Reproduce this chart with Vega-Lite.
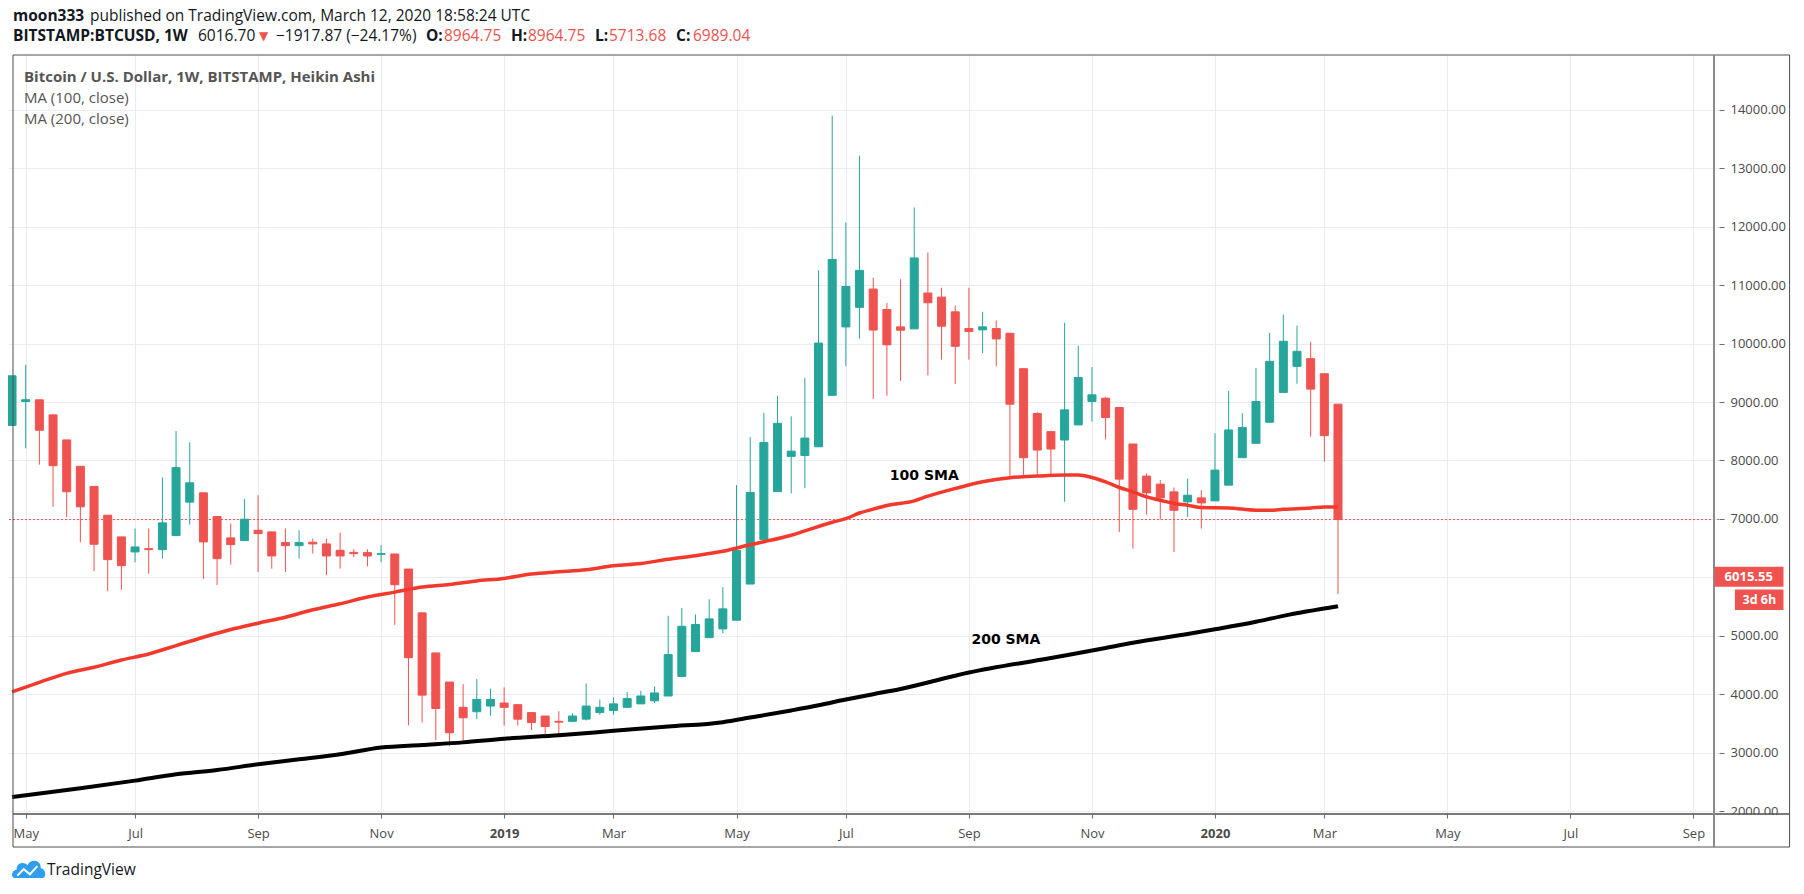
{
  "$schema": "https://vega.github.io/schema/vega-lite/v6.json",
  "width": 1711,
  "height": 759,
  "autosize": {"type": "none"},
  "padding": {"left": 8, "top": 55, "right": 85, "bottom": 80},
  "background": "white",
  "datasets": {
    "candles": [
      {"d": "2018-04-30", "o": 8600, "h": 9450, "l": 8600, "c": 9450},
      {"d": "2018-05-07", "o": 9010, "h": 9640, "l": 8209, "c": 9040},
      {"d": "2018-05-14", "o": 9039, "h": 9039, "l": 7928, "c": 8518},
      {"d": "2018-05-21", "o": 8781, "h": 8781, "l": 7207, "c": 7911},
      {"d": "2018-05-28", "o": 8352, "h": 8352, "l": 7035, "c": 7465},
      {"d": "2018-06-04", "o": 7900, "h": 7900, "l": 6600, "c": 7207},
      {"d": "2018-06-11", "o": 7556, "h": 7556, "l": 6108, "c": 6566},
      {"d": "2018-06-18", "o": 7064, "h": 7064, "l": 5764, "c": 6303},
      {"d": "2018-06-25", "o": 6692, "h": 6692, "l": 5787, "c": 6200},
      {"d": "2018-07-02", "o": 6435, "h": 6835, "l": 6257, "c": 6520},
      {"d": "2018-07-09", "o": 6491, "h": 6835, "l": 6062, "c": 6474},
      {"d": "2018-07-16", "o": 6474, "h": 7711, "l": 6320, "c": 6932},
      {"d": "2018-07-23", "o": 6715, "h": 8506, "l": 6715, "c": 7877},
      {"d": "2018-07-30", "o": 7287, "h": 8312, "l": 6903, "c": 7619},
      {"d": "2018-08-06", "o": 7447, "h": 7447, "l": 5971, "c": 6606},
      {"d": "2018-08-13", "o": 7041, "h": 7041, "l": 5868, "c": 6320},
      {"d": "2018-08-20", "o": 6675, "h": 6921, "l": 6217, "c": 6560},
      {"d": "2018-08-27", "o": 6629, "h": 7344, "l": 6629, "c": 6995},
      {"d": "2018-09-03", "o": 6806, "h": 7407, "l": 6091, "c": 6749},
      {"d": "2018-09-10", "o": 6778, "h": 6778, "l": 6148, "c": 6366},
      {"d": "2018-09-17", "o": 6595, "h": 6835, "l": 6091, "c": 6543},
      {"d": "2018-09-24", "o": 6543, "h": 6806, "l": 6320, "c": 6595},
      {"d": "2018-10-01", "o": 6600, "h": 6663, "l": 6406, "c": 6572},
      {"d": "2018-10-08", "o": 6572, "h": 6663, "l": 6039, "c": 6366},
      {"d": "2018-10-15", "o": 6463, "h": 6766, "l": 6148, "c": 6366},
      {"d": "2018-10-22", "o": 6428, "h": 6480, "l": 6348, "c": 6406},
      {"d": "2018-10-29", "o": 6423, "h": 6480, "l": 6188, "c": 6366},
      {"d": "2018-11-05", "o": 6394, "h": 6549, "l": 6257, "c": 6406},
      {"d": "2018-11-12", "o": 6400, "h": 6400, "l": 5186, "c": 5873},
      {"d": "2018-11-19", "o": 6142, "h": 6142, "l": 3469, "c": 4625},
      {"d": "2018-11-26", "o": 5392, "h": 5392, "l": 3515, "c": 3984},
      {"d": "2018-12-03", "o": 4706, "h": 4706, "l": 3212, "c": 3755},
      {"d": "2018-12-10", "o": 4208, "h": 4208, "l": 3110, "c": 3340},
      {"d": "2018-12-17", "o": 3775, "h": 4170, "l": 3178, "c": 3596},
      {"d": "2018-12-24", "o": 3700, "h": 4260, "l": 3573, "c": 3909},
      {"d": "2018-12-31", "o": 3797, "h": 4095, "l": 3633, "c": 3909},
      {"d": "2019-01-07", "o": 3849, "h": 4118, "l": 3462, "c": 3775},
      {"d": "2019-01-14", "o": 3820, "h": 3820, "l": 3462, "c": 3573},
      {"d": "2019-01-21", "o": 3685, "h": 3685, "l": 3387, "c": 3514},
      {"d": "2019-01-28", "o": 3626, "h": 3626, "l": 3313, "c": 3447},
      {"d": "2019-02-04", "o": 3536, "h": 3708, "l": 3313, "c": 3521},
      {"d": "2019-02-11", "o": 3536, "h": 3670, "l": 3521, "c": 3626},
      {"d": "2019-02-18", "o": 3573, "h": 4185, "l": 3551, "c": 3797},
      {"d": "2019-02-25", "o": 3685, "h": 3909, "l": 3648, "c": 3775},
      {"d": "2019-03-04", "o": 3722, "h": 3946, "l": 3648, "c": 3834},
      {"d": "2019-03-11", "o": 3775, "h": 4036, "l": 3775, "c": 3924},
      {"d": "2019-03-18", "o": 3834, "h": 4058, "l": 3834, "c": 3969},
      {"d": "2019-03-25", "o": 3887, "h": 4133, "l": 3849, "c": 4021},
      {"d": "2019-04-01", "o": 3969, "h": 5341, "l": 3969, "c": 4677},
      {"d": "2019-04-08", "o": 4305, "h": 5475, "l": 4305, "c": 5162},
      {"d": "2019-04-15", "o": 4729, "h": 5364, "l": 4729, "c": 5192},
      {"d": "2019-04-22", "o": 4968, "h": 5625, "l": 4968, "c": 5289},
      {"d": "2019-04-29", "o": 5117, "h": 5833, "l": 5043, "c": 5460},
      {"d": "2019-05-06", "o": 5266, "h": 7579, "l": 5266, "c": 6460},
      {"d": "2019-05-13", "o": 5885, "h": 8399, "l": 5885, "c": 7451},
      {"d": "2019-05-20", "o": 6646, "h": 8816, "l": 6646, "c": 8309},
      {"d": "2019-05-27", "o": 7467, "h": 9107, "l": 7467, "c": 8637},
      {"d": "2019-06-03", "o": 8071, "h": 8757, "l": 7437, "c": 8160},
      {"d": "2019-06-10", "o": 8086, "h": 9413, "l": 7526, "c": 8384},
      {"d": "2019-06-17", "o": 8235, "h": 11255, "l": 8235, "c": 10010},
      {"d": "2019-06-24", "o": 9115, "h": 13903, "l": 9115, "c": 11442},
      {"d": "2019-07-01", "o": 10286, "h": 12076, "l": 9614, "c": 10979},
      {"d": "2019-07-08", "o": 10621, "h": 13217, "l": 10084, "c": 11255},
      {"d": "2019-07-15", "o": 10934, "h": 11129, "l": 9055, "c": 10233},
      {"d": "2019-07-22", "o": 10584, "h": 10696, "l": 9107, "c": 9980},
      {"d": "2019-07-29", "o": 10287, "h": 11101, "l": 9365, "c": 10230},
      {"d": "2019-08-05", "o": 10253, "h": 12332, "l": 10253, "c": 11467},
      {"d": "2019-08-12", "o": 10866, "h": 11559, "l": 9457, "c": 10700},
      {"d": "2019-08-19", "o": 10797, "h": 10957, "l": 9726, "c": 10299},
      {"d": "2019-08-26", "o": 10545, "h": 10654, "l": 9308, "c": 9955},
      {"d": "2019-09-02", "o": 10258, "h": 10957, "l": 9726, "c": 10207},
      {"d": "2019-09-09", "o": 10236, "h": 10545, "l": 9840, "c": 10287},
      {"d": "2019-09-16", "o": 10258, "h": 10396, "l": 9611, "c": 10081},
      {"d": "2019-09-23", "o": 10178, "h": 10178, "l": 7738, "c": 8964},
      {"d": "2019-09-30", "o": 9571, "h": 9571, "l": 7738, "c": 8048},
      {"d": "2019-10-07", "o": 8804, "h": 8827, "l": 7738, "c": 8179},
      {"d": "2019-10-14", "o": 8494, "h": 8494, "l": 7738, "c": 8196},
      {"d": "2019-10-21", "o": 8351, "h": 10356, "l": 7292, "c": 8867},
      {"d": "2019-10-28", "o": 8609, "h": 9966, "l": 8609, "c": 9422},
      {"d": "2019-11-04", "o": 9010, "h": 9600, "l": 8666, "c": 9124},
      {"d": "2019-11-11", "o": 9067, "h": 9084, "l": 8363, "c": 8735},
      {"d": "2019-11-18", "o": 8907, "h": 8907, "l": 6776, "c": 7681},
      {"d": "2019-11-25", "o": 8282, "h": 8282, "l": 6490, "c": 7165},
      {"d": "2019-12-02", "o": 7733, "h": 7778, "l": 7074, "c": 7446},
      {"d": "2019-12-09", "o": 7595, "h": 7664, "l": 6994, "c": 7360},
      {"d": "2019-12-16", "o": 7463, "h": 7538, "l": 6432, "c": 7148},
      {"d": "2019-12-23", "o": 7292, "h": 7692, "l": 7034, "c": 7406},
      {"d": "2019-12-30", "o": 7360, "h": 7492, "l": 6833, "c": 7274},
      {"d": "2020-01-06", "o": 7309, "h": 8466, "l": 7309, "c": 7836},
      {"d": "2020-01-13", "o": 7578, "h": 9193, "l": 7578, "c": 8523},
      {"d": "2020-01-20", "o": 8048, "h": 8809, "l": 8048, "c": 8563},
      {"d": "2020-01-27", "o": 8294, "h": 9583, "l": 8294, "c": 9010},
      {"d": "2020-02-03", "o": 8655, "h": 10184, "l": 8655, "c": 9697},
      {"d": "2020-02-10", "o": 9165, "h": 10499, "l": 9165, "c": 10041},
      {"d": "2020-02-17", "o": 9611, "h": 10310, "l": 9313, "c": 9869},
      {"d": "2020-02-24", "o": 9743, "h": 10029, "l": 8408, "c": 9222},
      {"d": "2020-03-02", "o": 9485, "h": 9485, "l": 7979, "c": 8426},
      {"d": "2020-03-09", "o": 8964.75, "h": 8964.75, "l": 5713.68, "c": 6989.04}
    ],
    "sma100": [
      {"d": "2018-04-30", "v": 4040}, {"d": "2018-05-14", "v": 4202},
      {"d": "2018-05-28", "v": 4357}, {"d": "2018-06-11", "v": 4460},
      {"d": "2018-06-25", "v": 4585}, {"d": "2018-07-09", "v": 4688},
      {"d": "2018-07-23", "v": 4832}, {"d": "2018-08-06", "v": 4975},
      {"d": "2018-08-20", "v": 5106}, {"d": "2018-09-03", "v": 5215},
      {"d": "2018-09-17", "v": 5318}, {"d": "2018-10-01", "v": 5444},
      {"d": "2018-10-15", "v": 5547}, {"d": "2018-10-29", "v": 5662},
      {"d": "2018-11-12", "v": 5747}, {"d": "2018-11-26", "v": 5833},
      {"d": "2018-12-10", "v": 5879}, {"d": "2018-12-24", "v": 5938},
      {"d": "2019-01-07", "v": 5982}, {"d": "2019-01-21", "v": 6057},
      {"d": "2019-02-04", "v": 6094}, {"d": "2019-02-18", "v": 6131},
      {"d": "2019-03-04", "v": 6198}, {"d": "2019-03-18", "v": 6236},
      {"d": "2019-04-01", "v": 6310}, {"d": "2019-04-15", "v": 6370},
      {"d": "2019-04-29", "v": 6445}, {"d": "2019-05-13", "v": 6557},
      {"d": "2019-05-20", "v": 6609}, {"d": "2019-06-03", "v": 6721},
      {"d": "2019-06-10", "v": 6795}, {"d": "2019-06-24", "v": 6944},
      {"d": "2019-07-01", "v": 7004}, {"d": "2019-07-08", "v": 7101},
      {"d": "2019-07-15", "v": 7168}, {"d": "2019-07-22", "v": 7230},
      {"d": "2019-08-05", "v": 7309}, {"d": "2019-08-12", "v": 7389},
      {"d": "2019-08-26", "v": 7521}, {"d": "2019-09-09", "v": 7635},
      {"d": "2019-09-23", "v": 7704}, {"d": "2019-10-07", "v": 7733},
      {"d": "2019-10-21", "v": 7750}, {"d": "2019-10-28", "v": 7750},
      {"d": "2019-11-04", "v": 7710}, {"d": "2019-11-11", "v": 7635},
      {"d": "2019-11-18", "v": 7538}, {"d": "2019-11-25", "v": 7463},
      {"d": "2019-12-02", "v": 7377}, {"d": "2019-12-09", "v": 7320},
      {"d": "2019-12-16", "v": 7263}, {"d": "2019-12-23", "v": 7234},
      {"d": "2019-12-30", "v": 7194}, {"d": "2020-01-13", "v": 7188},
      {"d": "2020-01-27", "v": 7148}, {"d": "2020-02-03", "v": 7148},
      {"d": "2020-02-10", "v": 7165}, {"d": "2020-02-24", "v": 7188},
      {"d": "2020-03-02", "v": 7206}, {"d": "2020-03-09", "v": 7206}
    ],
    "sma200": [
      {"d": "2018-04-30", "v": 2240}, {"d": "2018-06-04", "v": 2390},
      {"d": "2018-07-02", "v": 2520}, {"d": "2018-07-23", "v": 2628},
      {"d": "2018-08-13", "v": 2702}, {"d": "2018-09-03", "v": 2800},
      {"d": "2018-09-24", "v": 2886}, {"d": "2018-10-15", "v": 2972},
      {"d": "2018-11-05", "v": 3086}, {"d": "2018-11-26", "v": 3130},
      {"d": "2018-12-17", "v": 3175}, {"d": "2019-01-07", "v": 3237},
      {"d": "2019-02-04", "v": 3297}, {"d": "2019-03-04", "v": 3372},
      {"d": "2019-04-01", "v": 3446}, {"d": "2019-04-29", "v": 3521},
      {"d": "2019-05-13", "v": 3600}, {"d": "2019-06-03", "v": 3722},
      {"d": "2019-06-17", "v": 3810}, {"d": "2019-07-01", "v": 3909},
      {"d": "2019-07-15", "v": 4000}, {"d": "2019-07-29", "v": 4090},
      {"d": "2019-09-02", "v": 4370}, {"d": "2019-10-14", "v": 4620},
      {"d": "2019-11-11", "v": 4790}, {"d": "2019-11-25", "v": 4880},
      {"d": "2019-12-23", "v": 5029}, {"d": "2020-01-06", "v": 5110},
      {"d": "2020-01-27", "v": 5240}, {"d": "2020-02-10", "v": 5340},
      {"d": "2020-03-09", "v": 5504}
    ]
  },
  "layer": [
    {
      "data": {"values": [{}]},
      "mark": {"type": "rule", "color": "#ef5350", "strokeWidth": 1, "strokeDash": [2, 2]},
      "encoding": {"y": {"datum": 6989.04}}
    },
    {
      "data": {"name": "candles"},
      "mark": {"type": "rule", "strokeWidth": 1, "clip": true},
      "encoding": {
        "x": {
          "field": "d",
          "type": "temporal",
          "title": null,
          "scale": {
            "type": "utc",
            "nice": false,
            "domain": [
              {"year": 2018, "month": 4, "date": 30, "hours": 12, "utc": true},
              {"year": 2020, "month": 9, "date": 17, "hours": 13, "utc": true}
            ]
          },
          "axis": {
            "orient": "bottom",
            "values": [
              {"year": 2018, "month": 5, "date": 7, "utc": true},
              {"year": 2018, "month": 7, "date": 2, "utc": true},
              {"year": 2018, "month": 9, "date": 3, "utc": true},
              {"year": 2018, "month": 11, "date": 5, "utc": true},
              {"year": 2019, "month": 1, "date": 7, "utc": true},
              {"year": 2019, "month": 3, "date": 4, "utc": true},
              {"year": 2019, "month": 5, "date": 6, "utc": true},
              {"year": 2019, "month": 7, "date": 1, "utc": true},
              {"year": 2019, "month": 9, "date": 2, "utc": true},
              {"year": 2019, "month": 11, "date": 4, "utc": true},
              {"year": 2020, "month": 1, "date": 6, "utc": true},
              {"year": 2020, "month": 3, "date": 2, "utc": true},
              {"year": 2020, "month": 5, "date": 4, "utc": true},
              {"year": 2020, "month": 7, "date": 6, "utc": true},
              {"year": 2020, "month": 9, "date": 7, "utc": true}
            ],
            "labelExpr": "utcmonth(datum.value) == 0 ? utcFormat(datum.value, '%Y') : utcFormat(datum.value, '%b')",
            "labelFontWeight": {"condition": {"test": "utcmonth(datum.value) == 0", "value": "bold"}, "value": "normal"},
            "grid": true,
            "domain": false,
            "tickSize": 4,
            "labelPadding": 15,
            "labelBaseline": "middle",
            "labelFlush": false,
            "labelOverlap": false
          }
        },
        "y": {
          "field": "l",
          "type": "quantitative",
          "title": null,
          "scale": {"domain": [1949, 14941], "nice": false, "zero": false},
          "axis": {
            "orient": "right",
            "values": [2000, 3000, 4000, 5000, 6000, 7000, 8000, 9000, 10000, 11000, 12000, 13000, 14000],
            "format": ".2f",
            "grid": true,
            "domain": false,
            "tickSize": 5,
            "labelPadding": 6,
            "labelFlush": false,
            "labelOverlap": false
          }
        },
        "y2": {"field": "h"},
        "color": {"condition": {"test": "datum.c >= datum.o", "value": "#26a69a"}, "value": "#ef5350"}
      }
    },
    {
      "data": {"name": "candles"},
      "mark": {"type": "bar", "width": 8, "strokeWidth": 1, "clip": true},
      "encoding": {
        "x": {"field": "d", "type": "temporal"},
        "y": {"field": "o", "type": "quantitative"},
        "y2": {"field": "c"},
        "fill": {"condition": {"test": "datum.c >= datum.o", "value": "#26a69a"}, "value": "#ef5350"},
        "stroke": {"condition": {"test": "datum.c >= datum.o", "value": "#26a69a"}, "value": "#ef5350"}
      }
    },
    {
      "data": {"name": "sma100"},
      "mark": {"type": "line", "color": "#f2392c", "strokeWidth": 3.5, "interpolate": "monotone", "clip": true},
      "encoding": {
        "x": {"field": "d", "type": "temporal"},
        "y": {"field": "v", "type": "quantitative"}
      }
    },
    {
      "data": {"name": "sma200"},
      "mark": {"type": "line", "color": "#000000", "strokeWidth": 4, "interpolate": "monotone", "clip": true},
      "encoding": {
        "x": {"field": "d", "type": "temporal"},
        "y": {"field": "v", "type": "quantitative"}
      }
    },
    {
      "data": {"values": [{}]},
      "mark": {"type": "text", "align": "left", "baseline": "middle", "font": "DejaVu Sans", "fontSize": 14, "fontWeight": "bold", "color": "#000000"},
      "encoding": {
        "x": {"datum": {"year": 2019, "month": 7, "date": 23, "hours": 12, "utc": true}, "type": "temporal"},
        "y": {"datum": 7740},
        "text": {"value": "100 SMA"}
      }
    },
    {
      "data": {"values": [{}]},
      "mark": {"type": "text", "align": "left", "baseline": "middle", "font": "DejaVu Sans", "fontSize": 14, "fontWeight": "bold", "color": "#000000"},
      "encoding": {
        "x": {"datum": {"year": 2019, "month": 9, "date": 3, "hours": 7, "utc": true}, "type": "temporal"},
        "y": {"datum": 4927},
        "text": {"value": "200 SMA"}
      }
    },
    {
      "data": {"values": [{}]},
      "mark": {"type": "rect", "color": "white"},
      "encoding": {
        "x": {"datum": {"year": 2020, "month": 9, "date": 17, "hours": 20, "utc": true}, "type": "temporal"},
        "x2": {"datum": {"year": 2020, "month": 10, "date": 25, "hours": 20, "utc": true}},
        "y": {"datum": 1935},
        "y2": {"datum": 1400}
      }
    },
    {
      "data": {"values": [{}]},
      "mark": {"type": "rect", "filled": false, "stroke": "#4f4f4f", "strokeWidth": 1},
      "encoding": {
        "x": {"datum": {"year": 2018, "month": 4, "date": 30, "hours": 12, "utc": true}, "type": "temporal"},
        "x2": {"datum": {"year": 2020, "month": 10, "date": 26, "hours": 6, "utc": true}},
        "y": {"datum": 1384},
        "y2": {"datum": 14941}
      }
    },
    {
      "data": {"values": [{}]},
      "mark": {"type": "rule", "color": "#4f4f4f", "strokeWidth": 1.5},
      "encoding": {
        "x": {"datum": {"year": 2018, "month": 4, "date": 30, "hours": 12, "utc": true}, "type": "temporal"},
        "x2": {"datum": {"year": 2020, "month": 10, "date": 26, "hours": 6, "utc": true}},
        "y": {"datum": 1949}
      }
    },
    {
      "data": {"values": [{}]},
      "mark": {"type": "rule", "color": "#8a8a8a", "strokeWidth": 2},
      "encoding": {
        "x": {"datum": {"year": 2020, "month": 9, "date": 17, "hours": 13, "utc": true}, "type": "temporal"},
        "y": {"datum": 1384},
        "y2": {"datum": 14941}
      }
    },
    {
      "data": {"values": [{}]},
      "mark": {"type": "rect", "color": "#ef5350"},
      "encoding": {
        "x": {"datum": {"year": 2020, "month": 9, "date": 17, "hours": 20, "utc": true}, "type": "temporal"},
        "x2": {"datum": {"year": 2020, "month": 10, "date": 23, "hours": 3, "utc": true}},
        "y": {"datum": 5840},
        "y2": {"datum": 6182}
      }
    },
    {
      "data": {"values": [{}]},
      "mark": {"type": "text", "align": "center", "baseline": "middle", "font": "Open Sans", "fontSize": 13, "fontWeight": "bold", "color": "white"},
      "encoding": {
        "x": {"datum": {"year": 2020, "month": 10, "date": 5, "hours": 8, "utc": true}, "type": "temporal"},
        "y": {"datum": 6011},
        "text": {"value": "6015.55"}
      }
    },
    {
      "data": {"values": [{}]},
      "mark": {"type": "rect", "color": "#ef5350"},
      "encoding": {
        "x": {"datum": {"year": 2020, "month": 9, "date": 28, "hours": 6, "utc": true}, "type": "temporal"},
        "x2": {"datum": {"year": 2020, "month": 10, "date": 23, "hours": 3, "utc": true}},
        "y": {"datum": 5441},
        "y2": {"datum": 5790}
      }
    },
    {
      "data": {"values": [{}]},
      "mark": {"type": "text", "align": "center", "baseline": "middle", "font": "Open Sans", "fontSize": 12.5, "fontWeight": "bold", "color": "white"},
      "encoding": {
        "x": {"datum": {"year": 2020, "month": 10, "date": 10, "hours": 18, "utc": true}, "type": "temporal"},
        "y": {"datum": 5610},
        "text": {"value": "3d 6h"}
      }
    },
    {
      "data": {"values": [{}]},
      "mark": {"type": "text", "align": "left", "baseline": "middle", "font": "Open Sans", "fontSize": 15.5, "fontWeight": "bold", "color": "#131722", "dx": 0, "dy": -39},
      "encoding": {
        "x": {"datum": {"year": 2018, "month": 4, "date": 30, "hours": 12, "utc": true}, "type": "temporal"},
        "y": {"datum": 14941},
        "text": {"value": "moon333"}
      }
    },
    {
      "data": {"values": [{}]},
      "mark": {"type": "text", "align": "left", "baseline": "middle", "font": "Open Sans", "fontSize": 15.5, "color": "#131722", "dx": 77, "dy": -39},
      "encoding": {
        "x": {"datum": {"year": 2018, "month": 4, "date": 30, "hours": 12, "utc": true}, "type": "temporal"},
        "y": {"datum": 14941},
        "text": {"value": "published on TradingView.com, March 12, 2020 18:58:24 UTC"}
      }
    },
    {
      "data": {"values": [{}]},
      "mark": {"type": "text", "align": "left", "baseline": "middle", "font": "Open Sans", "fontSize": 15.5, "fontWeight": "bold", "color": "#131722", "dx": 0, "dy": -19},
      "encoding": {
        "x": {"datum": {"year": 2018, "month": 4, "date": 30, "hours": 12, "utc": true}, "type": "temporal"},
        "y": {"datum": 14941},
        "text": {"value": "BITSTAMP:BTCUSD, 1W"}
      }
    },
    {
      "data": {"values": [{}]},
      "mark": {"type": "text", "align": "left", "baseline": "middle", "font": "Open Sans", "fontSize": 15.5, "color": "#131722", "dx": 185, "dy": -19},
      "encoding": {
        "x": {"datum": {"year": 2018, "month": 4, "date": 30, "hours": 12, "utc": true}, "type": "temporal"},
        "y": {"datum": 14941},
        "text": {"value": "6016.70"}
      }
    },
    {
      "data": {"values": [{}]},
      "mark": {"type": "text", "align": "left", "baseline": "middle", "font": "DejaVu Sans", "fontSize": 12, "color": "#ef5350", "dx": 246, "dy": -19},
      "encoding": {
        "x": {"datum": {"year": 2018, "month": 4, "date": 30, "hours": 12, "utc": true}, "type": "temporal"},
        "y": {"datum": 14941},
        "text": {"value": "▼"}
      }
    },
    {
      "data": {"values": [{}]},
      "mark": {"type": "text", "align": "left", "baseline": "middle", "font": "Open Sans", "fontSize": 15.5, "color": "#131722", "dx": 263, "dy": -19},
      "encoding": {
        "x": {"datum": {"year": 2018, "month": 4, "date": 30, "hours": 12, "utc": true}, "type": "temporal"},
        "y": {"datum": 14941},
        "text": {"value": "−1917.87 (−24.17%)"}
      }
    },
    {
      "data": {"values": [{}]},
      "mark": {"type": "text", "align": "left", "baseline": "middle", "font": "Open Sans", "fontSize": 15.5, "fontWeight": "bold", "color": "#131722", "dx": 413, "dy": -19},
      "encoding": {
        "x": {"datum": {"year": 2018, "month": 4, "date": 30, "hours": 12, "utc": true}, "type": "temporal"},
        "y": {"datum": 14941},
        "text": {"value": "O:"}
      }
    },
    {
      "data": {"values": [{}]},
      "mark": {"type": "text", "align": "left", "baseline": "middle", "font": "Open Sans", "fontSize": 15.5, "color": "#ef5350", "dx": 431, "dy": -19},
      "encoding": {
        "x": {"datum": {"year": 2018, "month": 4, "date": 30, "hours": 12, "utc": true}, "type": "temporal"},
        "y": {"datum": 14941},
        "text": {"value": "8964.75"}
      }
    },
    {
      "data": {"values": [{}]},
      "mark": {"type": "text", "align": "left", "baseline": "middle", "font": "Open Sans", "fontSize": 15.5, "fontWeight": "bold", "color": "#131722", "dx": 498, "dy": -19},
      "encoding": {
        "x": {"datum": {"year": 2018, "month": 4, "date": 30, "hours": 12, "utc": true}, "type": "temporal"},
        "y": {"datum": 14941},
        "text": {"value": "H:"}
      }
    },
    {
      "data": {"values": [{}]},
      "mark": {"type": "text", "align": "left", "baseline": "middle", "font": "Open Sans", "fontSize": 15.5, "color": "#ef5350", "dx": 515, "dy": -19},
      "encoding": {
        "x": {"datum": {"year": 2018, "month": 4, "date": 30, "hours": 12, "utc": true}, "type": "temporal"},
        "y": {"datum": 14941},
        "text": {"value": "8964.75"}
      }
    },
    {
      "data": {"values": [{}]},
      "mark": {"type": "text", "align": "left", "baseline": "middle", "font": "Open Sans", "fontSize": 15.5, "fontWeight": "bold", "color": "#131722", "dx": 582, "dy": -19},
      "encoding": {
        "x": {"datum": {"year": 2018, "month": 4, "date": 30, "hours": 12, "utc": true}, "type": "temporal"},
        "y": {"datum": 14941},
        "text": {"value": "L:"}
      }
    },
    {
      "data": {"values": [{}]},
      "mark": {"type": "text", "align": "left", "baseline": "middle", "font": "Open Sans", "fontSize": 15.5, "color": "#ef5350", "dx": 596, "dy": -19},
      "encoding": {
        "x": {"datum": {"year": 2018, "month": 4, "date": 30, "hours": 12, "utc": true}, "type": "temporal"},
        "y": {"datum": 14941},
        "text": {"value": "5713.68"}
      }
    },
    {
      "data": {"values": [{}]},
      "mark": {"type": "text", "align": "left", "baseline": "middle", "font": "Open Sans", "fontSize": 15.5, "fontWeight": "bold", "color": "#131722", "dx": 663, "dy": -19},
      "encoding": {
        "x": {"datum": {"year": 2018, "month": 4, "date": 30, "hours": 12, "utc": true}, "type": "temporal"},
        "y": {"datum": 14941},
        "text": {"value": "C:"}
      }
    },
    {
      "data": {"values": [{}]},
      "mark": {"type": "text", "align": "left", "baseline": "middle", "font": "Open Sans", "fontSize": 15.5, "color": "#ef5350", "dx": 680, "dy": -19},
      "encoding": {
        "x": {"datum": {"year": 2018, "month": 4, "date": 30, "hours": 12, "utc": true}, "type": "temporal"},
        "y": {"datum": 14941},
        "text": {"value": "6989.04"}
      }
    },
    {
      "data": {"values": [{}]},
      "mark": {"type": "text", "align": "left", "baseline": "middle", "font": "Open Sans", "fontSize": 15, "fontWeight": "bold", "color": "#555555", "dx": 11, "dy": 22},
      "encoding": {
        "x": {"datum": {"year": 2018, "month": 4, "date": 30, "hours": 12, "utc": true}, "type": "temporal"},
        "y": {"datum": 14941},
        "text": {"value": "Bitcoin / U.S. Dollar, 1W, BITSTAMP, Heikin Ashi"}
      }
    },
    {
      "data": {"values": [{}]},
      "mark": {"type": "text", "align": "left", "baseline": "middle", "font": "Open Sans", "fontSize": 15, "color": "#555555", "dx": 11, "dy": 43},
      "encoding": {
        "x": {"datum": {"year": 2018, "month": 4, "date": 30, "hours": 12, "utc": true}, "type": "temporal"},
        "y": {"datum": 14941},
        "text": {"value": "MA (100, close)"}
      }
    },
    {
      "data": {"values": [{}]},
      "mark": {"type": "text", "align": "left", "baseline": "middle", "font": "Open Sans", "fontSize": 15, "color": "#555555", "dx": 11, "dy": 64},
      "encoding": {
        "x": {"datum": {"year": 2018, "month": 4, "date": 30, "hours": 12, "utc": true}, "type": "temporal"},
        "y": {"datum": 14941},
        "text": {"value": "MA (200, close)"}
      }
    },
    {
      "data": {"values": [{}]},
      "mark": {"type": "point", "filled": true, "color": "#2e9ef0", "opacity": 1, "size": 1156, "shape": "M-0.85,0.5 C-1.05,0.5 -1.05,0.05 -0.72,0.02 C-0.75,-0.38 -0.3,-0.52 -0.08,-0.25 C0.1,-0.65 0.72,-0.58 0.7,-0.08 C1.02,-0.05 1.05,0.5 0.78,0.5 Z"},
      "encoding": {
        "x": {"datum": {"year": 2018, "month": 5, "date": 8, "hours": 15, "utc": true}, "type": "temporal"},
        "y": {"datum": 999}
      }
    },
    {
      "data": {"values": [{}]},
      "mark": {"type": "point", "filled": false, "stroke": "white", "strokeWidth": 2, "opacity": 1, "size": 1156, "shape": "M-0.68,0.36 L-0.3,-0.02 L0.06,0.28 L0.5,-0.2"},
      "encoding": {
        "x": {"datum": {"year": 2018, "month": 5, "date": 8, "hours": 15, "utc": true}, "type": "temporal"},
        "y": {"datum": 999}
      }
    },
    {
      "data": {"values": [{}]},
      "mark": {"type": "text", "align": "left", "baseline": "middle", "font": "Open Sans", "fontSize": 15.5, "color": "#131722", "dx": 34, "dy": 56},
      "encoding": {
        "x": {"datum": {"year": 2018, "month": 4, "date": 30, "hours": 12, "utc": true}, "type": "temporal"},
        "y": {"datum": 1949},
        "text": {"value": "TradingView"}
      }
    }
  ],
  "config": {
    "view": {"stroke": null},
    "axis": {
      "gridColor": "#e8edf3",
      "gridWidth": 1,
      "labelFont": "Open Sans",
      "labelFontSize": 13,
      "labelColor": "#4a4a4a",
      "tickColor": "#6a6a6a"
    }
  }
}
